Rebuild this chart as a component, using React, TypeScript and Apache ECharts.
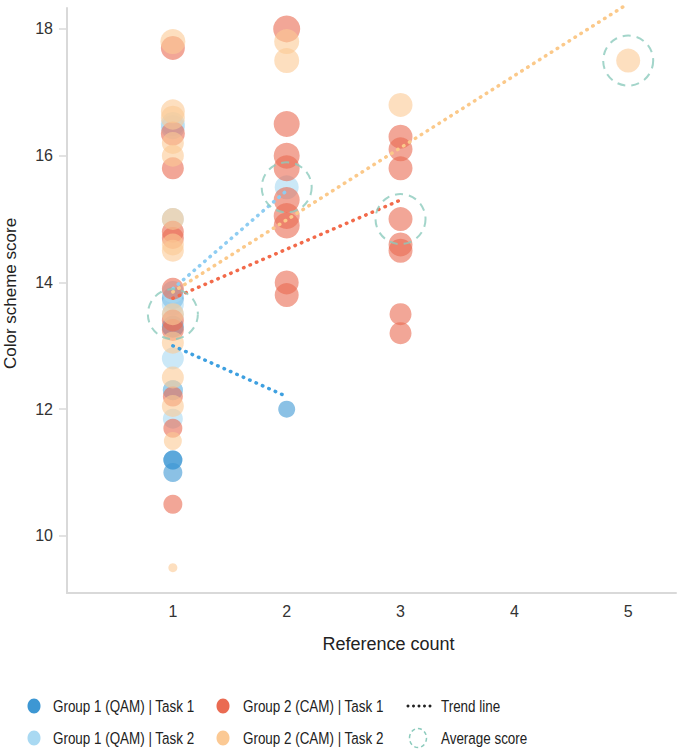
import React, { useEffect, useRef } from "react";
import * as echarts from "echarts";

// [reference count, score, bubble size]
const group1Task1: number[][] = [
  [1, 13.75, 22], [1, 13.3, 22], [1, 12.3, 20], [1, 11.2, 19], [1, 11.2, 19], [1, 11.0, 19],
  [2, 12.0, 17],
];
const group1Task2: number[][] = [
  [1, 16.5, 24], [1, 16.45, 24], [1, 15.0, 22], [1, 13.85, 22], [1, 13.65, 22], [1, 13.5, 22],
  [1, 12.8, 22], [1, 12.3, 20], [1, 11.85, 20],
  [2, 15.5, 24],
];
const group2Task1: number[][] = [
  [1, 17.7, 24], [1, 16.35, 24], [1, 15.8, 22], [1, 14.8, 22], [1, 14.7, 22], [1, 13.9, 22],
  [1, 13.4, 22], [1, 13.25, 22], [1, 12.2, 20], [1, 11.7, 19], [1, 10.5, 19],
  [2, 18.0, 27], [2, 16.5, 26], [2, 16.0, 26], [2, 15.8, 26], [2, 15.3, 26], [2, 15.05, 26],
  [2, 14.9, 26], [2, 14.0, 24], [2, 13.8, 24],
  [3, 16.3, 24], [3, 16.1, 24], [3, 15.8, 24], [3, 15.0, 24], [3, 14.6, 24], [3, 14.5, 24],
  [3, 13.5, 22], [3, 13.2, 22],
];
const group2Task2: number[][] = [
  [1, 17.8, 25], [1, 16.7, 24], [1, 16.6, 24], [1, 16.2, 22], [1, 16.0, 22], [1, 15.0, 22],
  [1, 14.6, 22], [1, 14.5, 22], [1, 13.5, 22], [1, 13.05, 22], [1, 12.5, 22], [1, 12.05, 22],
  [1, 11.5, 18], [1, 9.5, 9],
  [2, 17.8, 25], [2, 17.5, 25],
  [3, 16.8, 24],
  [5, 17.5, 24],
];

// trend line end points per group/task
const trendG1T1: number[][] = [[1, 13.0], [2, 12.2]];
const trendG1T2: number[][] = [[1, 13.9], [2, 15.45]];
const trendG2T1: number[][] = [[1, 13.75], [3, 15.3]];
const trendG2T2: number[][] = [[1, 13.85], [5, 18.4]];

// average score per reference count
const averageScores: number[][] = [[1, 13.5], [2, 15.5], [3, 15.0], [5, 17.5]];

const xTicks = [1, 2, 3, 4, 5];
const yTicks = [10, 12, 14, 16, 18];

const seriesNames = [
  "Group 1 (QAM) | Task 1",
  "Group 1 (QAM) | Task 2",
  "Group 2 (CAM) | Task 1",
  "Group 2 (CAM) | Task 2",
];

const COLORS = {
  g1t1: "#3d97d3",
  g1t2: "#a9d9f2",
  g2t1: "#ea6b52",
  g2t2: "#fbc994",
  trendG1T1: "#3ea0e0",
  trendG1T2: "#8fcdf2",
  trendG2T1: "#f26a4a",
  trendG2T2: "#fbc98a",
  avg: "#8ccbbd",
};

const FONT = "'Liberation Sans', Arial, sans-serif";

function bubbleSeries(name: string, data: number[][], color: string) {
  return {
    name,
    type: "scatter",
    data,
    symbolSize: (v: number[]) => v[2],
    itemStyle: { color, opacity: 0.6 },
    z: 2,
  };
}

function trendSeries(data: number[][], color: string) {
  return {
    type: "line",
    data,
    symbol: "none",
    clip: false,
    lineStyle: { color, width: 3.5, type: [0.5, 6.5], cap: "round" },
    z: 3,
    silent: true,
  };
}

export default function App() {
  const ref = useRef<HTMLDivElement>(null);

  useEffect(() => {
    if (!ref.current) return;
    const chart = echarts.init(ref.current, undefined, { renderer: "svg" });

    const legendRows = [706, 738];
    const legendCols = [
      { cx: 34, tx: 53 },
      { cx: 223, tx: 243 },
    ];
    const legendColors = [COLORS.g1t1, COLORS.g1t2, COLORS.g2t1, COLORS.g2t2];
    // condensed legend lettering
    const legendText = (text: string, x: number, y: number) => ({
      type: "text",
      x,
      y,
      scaleX: 0.79,
      style: { text, fontSize: 17, fontFamily: FONT, fill: "#222", verticalAlign: "middle" },
    });
    const legendGraphics: any[] = [];
    seriesNames.forEach((name, i) => {
      const col = legendCols[Math.floor(i / 2)];
      const y = legendRows[i % 2];
      legendGraphics.push({
        type: "ellipse",
        shape: { cx: col.cx, cy: y, rx: 6.5, ry: 7.5 },
        style: { fill: legendColors[i] },
      });
      legendGraphics.push(legendText(name, col.tx, y));
    });
    [408, 413.5, 419, 424.5, 430].forEach((cx) =>
      legendGraphics.push({
        type: "circle",
        shape: { cx, cy: legendRows[0], r: 1.5 },
        style: { fill: "#222" },
      })
    );
    legendGraphics.push(legendText("Trend line", 441, legendRows[0]));
    legendGraphics.push({
      type: "ellipse",
      shape: { cx: 418, cy: legendRows[1], rx: 8.5, ry: 9.5 },
      style: { fill: "none", stroke: COLORS.avg, lineWidth: 1.5, lineDash: [4, 3] },
    });
    legendGraphics.push(legendText("Average score", 441, legendRows[1]));

    chart.setOption({
      animation: false,
      textStyle: { fontFamily: FONT },
      grid: {
        left: 67,
        right: 7,
        top: 8,
        bottom: 156,
        containLabel: false,
        outerBoundsMode: "none",
      },
      xAxis: {
        type: "value",
        min: 0.07,
        max: 5.42,
        name: "Reference count",
        nameLocation: "middle",
        nameGap: 42,
        nameTextStyle: { fontSize: 18, color: "#222", fontFamily: FONT, padding: [0, 0, 0, 34] },
        axisLine: { show: true, lineStyle: { color: "#d9d9d9", width: 2 } },
        axisTick: { show: false },
        splitLine: { show: false },
        axisLabel: { customValues: xTicks, fontSize: 16, color: "#333", margin: 10, fontFamily: FONT },
      },
      yAxis: {
        type: "value",
        min: 9.1,
        max: 18.33,
        name: "Color scheme score",
        nameLocation: "middle",
        nameGap: 48,
        nameTextStyle: { fontSize: 17, color: "#222", fontFamily: FONT, padding: [0, 0, 0, 14] },
        axisLine: { show: true, lineStyle: { color: "#d9d9d9", width: 2 } },
        axisTick: { show: true, customValues: yTicks, length: 8, lineStyle: { color: "#d9d9d9", width: 1.5 } },
        splitLine: { show: false },
        axisLabel: { customValues: yTicks, fontSize: 16, color: "#333", margin: 14, fontFamily: FONT },
      },
      series: [
        bubbleSeries(seriesNames[0], group1Task1, COLORS.g1t1),
        bubbleSeries(seriesNames[1], group1Task2, COLORS.g1t2),
        bubbleSeries(seriesNames[2], group2Task1, COLORS.g2t1),
        bubbleSeries(seriesNames[3], group2Task2, COLORS.g2t2),
        trendSeries(trendG1T1, COLORS.trendG1T1),
        trendSeries(trendG1T2, COLORS.trendG1T2),
        trendSeries(trendG2T1, COLORS.trendG2T1),
        trendSeries(trendG2T2, COLORS.trendG2T2),
        {
          name: "Average score",
          type: "scatter",
          data: averageScores,
          symbolSize: 50,
          itemStyle: {
            color: "rgba(0,0,0,0)",
            borderColor: COLORS.avg,
            borderWidth: 2,
            borderType: [8, 6],
          },
          z: 4,
          silent: true,
        },
      ],
      graphic: legendGraphics,
    });

    return () => chart.dispose();
  }, []);

  return (
    <div
      ref={ref}
      style={{ position: "fixed", left: 0, top: 0, width: 683, height: 749, background: "#fff" }}
    />
  );
}
